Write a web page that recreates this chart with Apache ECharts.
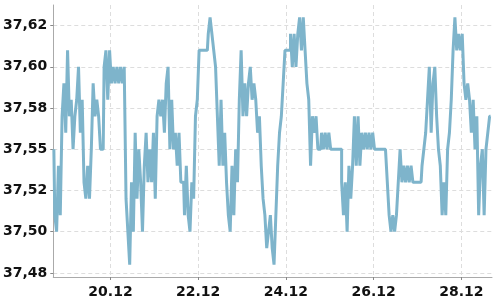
<!DOCTYPE html>
<html>
<head>
<meta charset="utf-8">
<script src="https://cdn.jsdelivr.net/npm/echarts@6/dist/echarts.min.js"></script>
<style>html,body{margin:0;padding:0;background:#fff}#c{width:500px;height:300px}</style>
</head>
<body>
<div id="c"></div>
<script>
// hourly readings starting 18.12 17:00
var startTime = Date.UTC(2012, 11, 18, 17, 0);
var stepMs = 3600000;
var values = [
37.55,37.51,37.50,37.54,37.51,37.57,37.59,37.56,37.61,37.57,
37.58,37.55,37.57,37.58,37.60,37.56,37.58,37.53,37.52,37.54,
37.52,37.55,37.59,37.57,37.58,37.57,37.55,37.55,37.60,37.61,
37.58,37.61,37.59,37.60,37.59,37.60,37.59,37.60,37.59,37.60,
37.52,37.50,37.48,37.53,37.50,37.56,37.52,37.55,37.53,37.50,
37.54,37.56,37.53,37.55,37.53,37.56,37.52,37.57,37.58,37.57,
37.58,37.56,37.59,37.60,37.55,37.58,37.55,37.56,37.54,37.56,
37.53,37.53,37.51,37.54,37.51,37.50,37.53,37.52,37.57,37.58,
37.61,37.61,37.61,37.61,37.61,37.62,37.63,37.62,37.61,37.60,
37.57,37.54,37.58,37.54,37.56,37.53,37.51,37.50,37.54,37.51,
37.55,37.53,37.58,37.61,37.57,37.59,37.57,37.59,37.60,37.58,
37.59,37.58,37.56,37.57,37.54,37.52,37.51,37.49,37.50,37.51,
37.49,37.48,37.51,37.54,37.56,37.57,37.59,37.61,37.61,37.61,
37.62,37.60,37.62,37.60,37.62,37.63,37.61,37.63,37.61,37.59,
37.58,37.54,37.57,37.56,37.57,37.55,37.55,37.56,37.55,37.56,
37.55,37.56,37.55,37.55,37.55,37.55,37.55,37.55,37.53,37.51,
37.53,37.50,37.54,37.52,37.54,37.57,37.54,37.57,37.54,37.56,
37.55,37.56,37.55,37.56,37.55,37.56,37.55,37.55,37.55,37.55,
37.55,37.55,37.55,37.53,37.51,37.50,37.51,37.50,37.51,37.53,
37.55,37.53,37.54,37.53,37.54,37.53,37.54,37.53,37.53,37.53,
37.53,37.53,37.54,37.55,37.56,37.58,37.60,37.56,37.59,37.60,
37.57,37.55,37.54,37.51,37.53,37.51,37.55,37.56,37.58,37.61,
37.63,37.61,37.62,37.61,37.62,37.59,37.58,37.59,37.58,37.56,
37.58,37.55,37.57,37.51,37.54,37.55,37.51,37.55,37.56,37.57
];
var yTicks = [37.475, 37.5, 37.525, 37.55, 37.575, 37.6, 37.625];
var yTickLabels = ['37,48', '37,50', '37,52', '37,55', '37,58', '37,60', '37,62'];
var xTicks = [Date.UTC(2012,11,20), Date.UTC(2012,11,22), Date.UTC(2012,11,24), Date.UTC(2012,11,26), Date.UTC(2012,11,28)];
var xTickLabels = ['20.12', '22.12', '24.12', '26.12', '28.12'];
var xMin = Date.UTC(2012, 11, 18, 16, 41);
var xMax = Date.UTC(2012, 11, 28, 16, 48);
var yMin = 37.4725, yMax = 37.6375;

var seriesData = values.map(function (v, i) { return [startTime + i * stepMs, v]; });
function nearestLabel(ticks, labels, v) {
  var best = 0;
  for (var i = 1; i < ticks.length; i++) if (Math.abs(ticks[i] - v) < Math.abs(ticks[best] - v)) best = i;
  return labels[best];
}
var chart = echarts.init(document.getElementById('c'), null, {renderer: 'canvas'});
var font = 'DejaVu Sans';
chart.setOption({
  animation: false,
  grid: {left: 53, right: 8, top: 5, bottom: 23, containLabel: false},
  xAxis: {
    type: 'value', min: xMin, max: xMax,
    axisLine: {show: true, lineStyle: {color: '#aaaaaa', width: 1}},
    axisTick: {show: true, length: 3, customValues: xTicks, lineStyle: {color: '#888888'}},
    axisLabel: {customValues: xTicks, color: '#111', fontFamily: font, fontSize: 14, fontWeight: 'bold', margin: 8,
      formatter: function (v) { return nearestLabel(xTicks, xTickLabels, v); }},
    splitLine: {show: true, lineStyle: {color: '#dddddd', type: [4, 3], width: 1}}
  },
  yAxis: {
    type: 'value', min: yMin, max: yMax,
    axisLine: {show: true, lineStyle: {color: '#aaaaaa', width: 1}},
    axisTick: {show: true, length: 3, customValues: yTicks, lineStyle: {color: '#888888'}},
    axisLabel: {customValues: yTicks, color: '#111', fontFamily: font, fontSize: 14, fontWeight: 'bold', margin: 6,
      formatter: function (v) { return nearestLabel(yTicks, yTickLabels, v); }},
    splitLine: {show: true, lineStyle: {color: '#dddddd', type: [4, 3], width: 1}}
  },
  series: [{
    type: 'line', data: seriesData, showSymbol: false, symbol: 'none', step: 'middle',
    lineStyle: {color: '#7eb4cb', width: 3}, clip: true
  }]
});
</script>
</body>
</html>
